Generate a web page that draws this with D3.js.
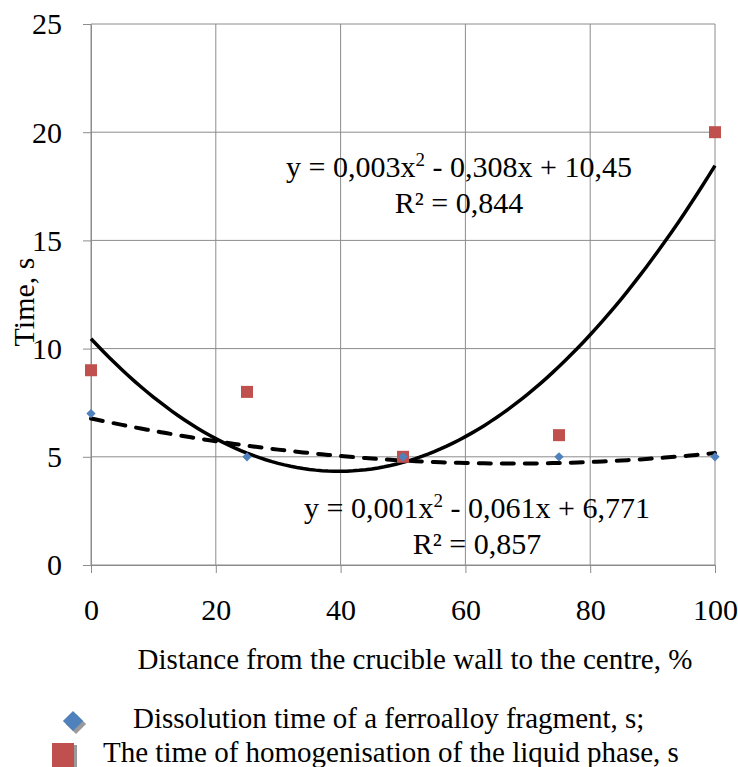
<!DOCTYPE html>
<html>
<head>
<meta charset="utf-8">
<script src="https://cdn.jsdelivr.net/npm/d3@7"></script>
<style>
  body { margin: 0; background: #fff; }
  text { font-family: "Liberation Serif", "Times New Roman", serif; fill: #000; }
</style>
</head>
<body>
<div id="chart"></div>
<script>
// Chart data
const distance = [0, 25, 50, 75, 100];            // % from crucible wall
const dissolution = [7, 5, 5, 5, 5];              // s, blue diamonds
const homogenisation = [9, 8, 5, 6, 20];          // s, red squares
const xTicks = [0, 20, 40, 60, 80, 100];
const yTicks = [0, 5, 10, 15, 20, 25];

// Size and plot area
const W = 738, H = 767;
const plot = { left: 91, right: 715, top: 24, bottom: 565 };
const serif = "'Liberation Serif', 'Times New Roman', serif";

const svg = d3.select("#chart")
  .append("svg")
  .attr("width", W)
  .attr("height", H);

// Scales
const x = d3.scaleLinear().domain([0, 100]).range([plot.left, plot.right]);
const y = d3.scaleLinear().domain([0, 25]).range([plot.bottom, plot.top]);

const gridColor = "#8c8c8c";

// Vertical grid lines
svg.append("g")
  .selectAll("line")
  .data(xTicks)
  .enter()
  .append("line")
  .attr("x1", d => x(d)).attr("x2", d => x(d))
  .attr("y1", plot.top).attr("y2", plot.bottom)
  .attr("stroke", gridColor);

// Horizontal grid lines
svg.append("g")
  .selectAll("line")
  .data(yTicks)
  .enter()
  .append("line")
  .attr("x1", plot.left).attr("x2", plot.right)
  .attr("y1", d => y(d)).attr("y2", d => y(d))
  .attr("stroke", gridColor);

// X axis
const xAxis = svg.append("g")
  .attr("transform", `translate(0,${plot.bottom})`)
  .call(d3.axisBottom(x).tickValues(xTicks).tickSize(8).tickSizeOuter(0))
  .attr("font-family", serif)
  .attr("font-size", 30);
xAxis.select(".domain").attr("stroke", gridColor);
xAxis.selectAll(".tick line").attr("stroke", gridColor);
xAxis.selectAll(".tick text")
  .attr("y", 55).attr("dy", 0);

// Y axis
const yAxis = svg.append("g")
  .attr("transform", `translate(${plot.left},0)`)
  .call(d3.axisLeft(y).tickValues(yTicks).tickSize(8).tickSizeOuter(0))
  .attr("font-family", serif)
  .attr("font-size", 30);
yAxis.select(".domain").attr("stroke", gridColor);
yAxis.selectAll(".tick line").attr("stroke", gridColor);
yAxis.selectAll(".tick text")
  .attr("x", -29).attr("dy", "0.33em");

// Least squares quadratic fit (Excel polynomial trendline, order 2)
function quadFit(xs, ys) {
  const n = xs.length;
  let s1 = 0, s2 = 0, s3 = 0, s4 = 0, t0 = 0, t1 = 0, t2 = 0;
  xs.forEach((xi, i) => {
    const yi = ys[i];
    s1 += xi; s2 += xi * xi; s3 += xi ** 3; s4 += xi ** 4;
    t0 += yi; t1 += xi * yi; t2 += xi * xi * yi;
  });
  // Solve 3x3 normal equations with Cramer's rule
  const M = [[n, s1, s2], [s1, s2, s3], [s2, s3, s4]];
  const det = m => m[0][0] * (m[1][1] * m[2][2] - m[1][2] * m[2][1])
    - m[0][1] * (m[1][0] * m[2][2] - m[1][2] * m[2][0])
    + m[0][2] * (m[1][0] * m[2][1] - m[1][1] * m[2][0]);
  const D = det(M);
  const rhs = [t0, t1, t2];
  const coef = [0, 1, 2].map(k => det(M.map((row, r) => row.map((v, c) => c === k ? rhs[r] : v))) / D);
  return xv => coef[0] + coef[1] * xv + coef[2] * xv * xv;
}

const fitHomog = quadFit(distance, homogenisation);
const fitDiss = quadFit(distance, dissolution);
const xs = d3.range(0, 100.5, 1);

const line = f => d3.line()
  .x(d => x(d))
  .y(d => y(f(d)));

// Solid trendline (homogenisation)
svg.append("path")
  .datum(xs)
  .attr("d", line(fitHomog))
  .attr("fill", "none")
  .attr("stroke", "#000")
  .attr("stroke-width", 3.5);

// Dashed trendline (dissolution)
svg.append("path")
  .datum(xs)
  .attr("d", line(fitDiss))
  .attr("fill", "none")
  .attr("stroke", "#000")
  .attr("stroke-width", 4)
  .attr("stroke-linecap", "round")
  .attr("stroke-dasharray", "12 11");

// Red squares
svg.selectAll("rect.homog")
  .data(distance)
  .enter()
  .append("rect")
  .attr("class", "homog")
  .attr("x", d => x(d) - 6)
  .attr("y", (d, i) => y(homogenisation[i]) - 6)
  .attr("width", 12).attr("height", 12)
  .attr("fill", "#C0504D");

// Blue diamonds
const diamond = d3.symbol().type(d3.symbolDiamond2).size(55);
svg.selectAll("path.diss")
  .data(distance)
  .enter()
  .append("path")
  .attr("class", "diss")
  .attr("d", diamond)
  .attr("transform", (d, i) => `translate(${x(d)},${y(dissolution[i])})`)
  .attr("fill", "#4F81BD");

// Trendline equations
function equation(cx, yTop, a, b, c, r2) {
  const t = svg.append("text")
    .attr("x", cx).attr("y", yTop)
    .attr("text-anchor", "middle")
    .style("font-size", "30px");
  t.append("tspan").text(`y = ${a}x`);
  t.append("tspan").attr("dy", -11).style("font-size", "19px").text("2");
  t.append("tspan").attr("dy", 11).text(` - ${b}x + ${c}`);
  svg.append("text")
    .attr("x", cx).attr("y", yTop + 36)
    .attr("text-anchor", "middle")
    .style("font-size", "30px")
    .text(`R² = ${r2}`);
}
equation(459, 177, "0,003", "0,308", "10,45", "0,844");
equation(477, 518, "0,001", "0,061", "6,771", "0,857");

// Axis titles
svg.append("text")
  .attr("x", 415).attr("y", 669)
  .attr("text-anchor", "middle")
  .style("font-size", "29px")
  .text("Distance from the crucible wall to the centre, %");

svg.append("text")
  .attr("transform", "translate(34,302) rotate(-90)")
  .attr("text-anchor", "middle")
  .style("font-size", "30px")
  .text("Time, s");

// Legend
const legend = svg.append("g");
legend.append("path")
  .attr("d", d3.symbol().type(d3.symbolDiamond2).size(260))
  .attr("transform", "translate(76,724)")
  .attr("fill", "#9a9a9a");
legend.append("path")
  .attr("d", d3.symbol().type(d3.symbolDiamond2).size(260))
  .attr("transform", "translate(73,721)")
  .attr("fill", "#4F81BD");
legend.append("text")
  .attr("x", 133).attr("y", 728)
  .style("font-size", "29px")
  .text("Dissolution time of a ferroalloy fragment, s;");

legend.append("rect")
  .attr("x", 55).attr("y", 745).attr("width", 22).attr("height", 22)
  .attr("fill", "#9a9a9a");
legend.append("rect")
  .attr("x", 52).attr("y", 743).attr("width", 22).attr("height", 24)
  .attr("fill", "#C0504D");
legend.append("text")
  .attr("x", 103).attr("y", 762)
  .style("font-size", "29px")
  .text("The time of homogenisation of the liquid phase, s");
</script>
</body>
</html>
